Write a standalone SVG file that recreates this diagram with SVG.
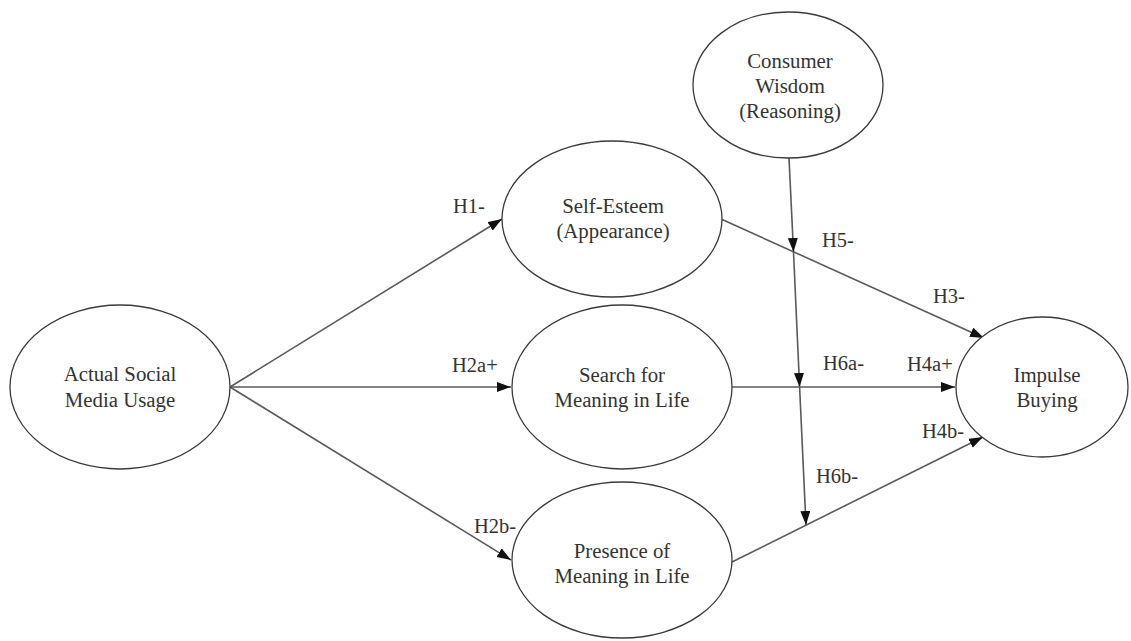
<svg xmlns="http://www.w3.org/2000/svg" width="1131" height="641" viewBox="0 0 1131 641">
  <style>
    .node ellipse { fill: #ffffff; stroke: #3a3a3a; stroke-width: 1.3; }
    .node text { font-family: "Liberation Serif", "Times New Roman", serif; font-size: 20.8px; fill: #333333; text-anchor: middle; }
    .edge { stroke: #5a5a5a; stroke-width: 1.6; fill: none; marker-end: url(#arrow); }
    .lbl { font-family: "Liberation Serif", "Times New Roman", serif; font-size: 20.5px; fill: #333333; }
  </style>
  <defs>
    <marker id="arrow" markerUnits="userSpaceOnUse" markerWidth="15" markerHeight="11" refX="14" refY="5" orient="auto">
      <path d="M0,0 L14,5 L0,10 z" fill="#111111"/>
    </marker>
  </defs>
  <rect width="1131" height="641" fill="#ffffff"/>

  <!-- connectors -->
  <g id="connectors">
    <line class="edge" x1="230" y1="387" x2="502" y2="219"/>
    <line class="edge" x1="230" y1="387" x2="511" y2="387"/>
    <line class="edge" x1="230" y1="387" x2="511" y2="560"/>
    <line class="edge" x1="721" y1="219" x2="984" y2="338"/>
    <line class="edge" x1="732" y1="387" x2="955" y2="387"/>
    <line class="edge" x1="732" y1="562" x2="983" y2="437"/>
    <!-- moderating path from Consumer Wisdom onto H3, H4a and H4b -->
    <line class="edge" x1="789" y1="158" x2="793.5" y2="252"/>
    <line class="edge" x1="793.5" y1="252" x2="799.6" y2="387"/>
    <line class="edge" x1="799.6" y1="387" x2="806" y2="525"/>
  </g>

  <!-- path labels -->
  <g id="labels">
    <text class="lbl" x="453" y="213">H1-</text>
    <text class="lbl" x="452" y="372">H2a+</text>
    <text class="lbl" x="474" y="533">H2b-</text>
    <text class="lbl" x="822" y="247">H5-</text>
    <text class="lbl" x="933" y="303">H3-</text>
    <text class="lbl" x="823" y="370">H6a-</text>
    <text class="lbl" x="907" y="371">H4a+</text>
    <text class="lbl" x="922" y="438">H4b-</text>
    <text class="lbl" x="816" y="483">H6b-</text>
  </g>

  <!-- constructs -->
  <g id="consumer-wisdom" class="node">
    <ellipse cx="788" cy="85" rx="95" ry="73"/>
    <text x="790" y="68">Consumer</text>
    <text x="790" y="93">Wisdom</text>
    <text x="790" y="118">(Reasoning)</text>
  </g>
  <g id="actual-social-media-usage" class="node">
    <ellipse cx="120" cy="387" rx="110" ry="82"/>
    <text x="120" y="381">Actual Social</text>
    <text x="120" y="407">Media Usage</text>
  </g>
  <g id="self-esteem" class="node">
    <ellipse cx="612" cy="219" rx="110" ry="78"/>
    <text x="613" y="213">Self-Esteem</text>
    <text x="613" y="238">(Appearance)</text>
  </g>
  <g id="search-for-meaning" class="node">
    <ellipse cx="622" cy="387" rx="110" ry="82"/>
    <text x="622" y="382">Search for</text>
    <text x="622" y="407">Meaning in Life</text>
  </g>
  <g id="presence-of-meaning" class="node">
    <ellipse cx="622" cy="560" rx="110" ry="78"/>
    <text x="622" y="558">Presence of</text>
    <text x="622" y="583">Meaning in Life</text>
  </g>
  <g id="impulse-buying" class="node">
    <ellipse cx="1042" cy="387" rx="86" ry="70"/>
    <text x="1047" y="382">Impulse</text>
    <text x="1047" y="407">Buying</text>
  </g>
</svg>
